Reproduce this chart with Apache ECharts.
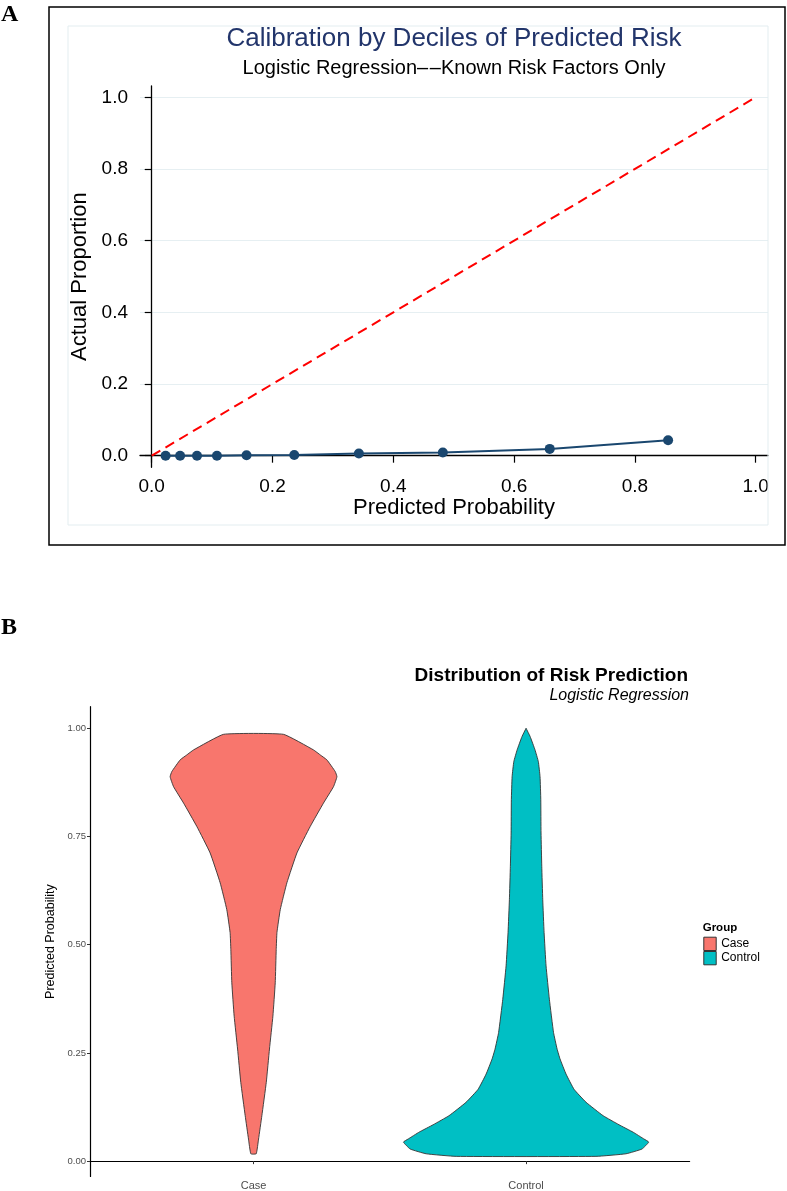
<!DOCTYPE html>
<html><head><meta charset="utf-8">
<script src="https://cdn.jsdelivr.net/npm/echarts@6/dist/echarts.min.js"></script>
<style>html,body{margin:0;padding:0;background:#fff}#c{width:787px;height:1191px}</style>
</head><body><div id="c"></div>
<script>
// ---------- Panel A: calibration by deciles ----------
const calibPredicted = [0.023, 0.047, 0.075, 0.108, 0.157, 0.236, 0.343, 0.482, 0.659, 0.855];
const calibActual    = [0.000, 0.000, 0.000, 0.000, 0.001, 0.002, 0.006, 0.009, 0.019, 0.043];
const refLine = [[0, 0], [1, 1]];
const calibTicks = [0, 0.2, 0.4, 0.6, 0.8, 1.0];

// ---------- Panel B: violin of predicted risk ----------
const groups = ['Case', 'Control'];
const caseProb  = [0.986, 0.950, 0.938, 0.927, 0.900, 0.888, 0.865, 0.827, 0.773, 0.712, 0.643, 0.581, 0.528, 0.489, 0.412, 0.335, 0.259, 0.182, 0.105, 0.051, 0.017];
const caseDens  = [0.244, 0.489, 0.546, 0.598, 0.666, 0.680, 0.652, 0.570, 0.462, 0.354, 0.272, 0.218, 0.191, 0.185, 0.177, 0.158, 0.130, 0.104, 0.068, 0.041, 0.022];
const controlProb = [1.000, 0.981, 0.950, 0.923, 0.888, 0.835, 0.758, 0.681, 0.604, 0.528, 0.451, 0.374, 0.297, 0.259, 0.236, 0.201, 0.166, 0.136, 0.105, 0.084, 0.067, 0.051, 0.044, 0.028, 0.017, 0.011];
const controlDens = [0.000, 0.033, 0.073, 0.100, 0.114, 0.120, 0.122, 0.128, 0.136, 0.147, 0.163, 0.190, 0.224, 0.253, 0.277, 0.326, 0.391, 0.489, 0.628, 0.758, 0.872, 0.962, 1.000, 0.945, 0.815, 0.570];
const violinTicks = [0, 0.25, 0.5, 0.75, 1.0];
const groupColors = ['#F8766D', '#00BFC4'];

const FONT = '"Liberation Sans", Arial, Helvetica, sans-serif';
const chart = echarts.init(document.getElementById('c'), null, {renderer: 'canvas'});

function violin(name, pos, probs, dens, color) {
  return {
    type: 'custom', name: name, xAxisIndex: 1, yAxisIndex: 1,
    itemStyle: {color: color},
    data: [[pos, probs[0]]],
    renderItem: function (params, api) {
      const half = 0.45 * api.size([1, 0])[0];
      const right = [], left = [];
      for (let i = 0; i < probs.length; i++) {
        const c = api.coord([pos, probs[i]]);
        right.push([c[0] + dens[i] * half, c[1]]);
        left.unshift([c[0] - dens[i] * half, c[1]]);
      }
      return {
        type: 'polygon',
        shape: {points: right.concat(left), smooth: 0.12},
        style: {fill: color, stroke: '#333333', lineWidth: 0.9}
      };
    }
  };
}

const option = {
  animation: false,
  backgroundColor: '#ffffff',
  title: [
    {text: 'Calibration by Deciles of Predicted Risk', left: 454, top: 26, textAlign: 'center', padding: 0,
     textStyle: {fontFamily: FONT, fontSize: 26, fontWeight: 'normal', color: '#22356b'}},
    {text: 'Logistic Regression\u2013\u200a\u2013Known Risk Factors Only', left: 454, top: 58, textAlign: 'center', padding: 0,
     textStyle: {fontFamily: FONT, fontSize: 20, fontWeight: 'normal', color: '#000'}},
    {text: 'Distribution of Risk Prediction', left: 688, top: 665.8, textAlign: 'right', padding: 0,
     textStyle: {fontFamily: FONT, fontSize: 19, fontWeight: 'bold', color: '#000'}},
    {text: 'Logistic Regression', left: 689, top: 688, textAlign: 'right', padding: 0,
     textStyle: {fontFamily: FONT, fontSize: 16, fontStyle: 'italic', fontWeight: 'normal', color: '#000'}},
    {text: 'Group', left: 702.7, top: 921.5, padding: 0,
     textStyle: {fontFamily: FONT, fontSize: 11.5, fontWeight: 'bold', color: '#000'}}
  ],
  legend: {
    data: [
      {name: 'Case', itemStyle: {color: groupColors[0], borderColor: '#333', borderWidth: 1}},
      {name: 'Control', itemStyle: {color: groupColors[1], borderColor: '#333', borderWidth: 1}}
    ],
    orient: 'vertical', left: 703.3, top: 936.7, padding: 0,
    itemWidth: 12.4, itemHeight: 13.3, itemGap: 0, icon: 'rect', selectedMode: false,
    textStyle: {fontFamily: FONT, fontSize: 12, color: '#000'}
  },
  graphic: [
    {type: 'rect', shape: {x: 49, y: 7, width: 736, height: 538}, style: {fill: 'none', stroke: '#000', lineWidth: 1.5}, z: 100},
    {type: 'rect', shape: {x: 68, y: 26, width: 700, height: 499}, style: {fill: 'none', stroke: '#e3edf0', lineWidth: 1}, z: 1},
    {type: 'text', x: 1, y: 3, style: {text: 'A', font: 'bold 24px "Liberation Serif", "Times New Roman", serif', fill: '#000'}},
    {type: 'text', x: 1, y: 616, style: {text: 'B', font: 'bold 24px "Liberation Serif", "Times New Roman", serif', fill: '#000'}}
  ],
  grid: [
    {left: 140, top: 86, width: 628, height: 381.3, containLabel: false},
    {left: 90, top: 706.7, width: 599.6, height: 471, containLabel: false}
  ],
  xAxis: [
    {type: 'value', gridIndex: 0, min: -0.0194, max: 1.0204,
     axisLine: {show: true, lineStyle: {color: '#000', width: 1.3}},
     axisTick: {show: true, length: 7, customValues: calibTicks, lineStyle: {color: '#000', width: 1.2}},
     axisLabel: {customValues: calibTicks, formatter: v => v.toFixed(1), margin: 9.5,
                 fontFamily: FONT, fontSize: 19, color: '#000'},
     splitLine: {show: false},
     name: 'Predicted Probability', nameLocation: 'middle', nameGap: 30,
     nameTextStyle: {fontFamily: FONT, fontSize: 22, color: '#000'}},
    {type: 'value', gridIndex: 1, min: 0.4, max: 2.6,
     axisLine: {show: true, lineStyle: {color: '#000', width: 1.2}},
     axisTick: {show: true, length: 3, customValues: [1, 2], lineStyle: {color: '#333', width: 1}},
     axisLabel: {customValues: [1, 2], formatter: v => groups[Math.round(v) - 1], margin: 3.5,
                 fontFamily: FONT, fontSize: 11, color: '#4d4d4d'},
     splitLine: {show: false}}
  ],
  yAxis: [
    {type: 'value', gridIndex: 0, min: -0.0324, max: 1.0315,
     axisLine: {show: true, lineStyle: {color: '#000', width: 1.3}},
     axisTick: {show: true, length: 7, customValues: calibTicks, lineStyle: {color: '#000', width: 1.2}},
     axisLabel: {customValues: calibTicks, formatter: v => v.toFixed(1), margin: 12,
                 fontFamily: FONT, fontSize: 19, color: '#000'},
     splitLine: {show: true, lineStyle: {color: '#e6eff2', width: 1.2}},
     name: 'Actual Proportion', nameLocation: 'middle', nameGap: 48,
     nameTextStyle: {fontFamily: FONT, fontSize: 22, color: '#000'}},
    {type: 'value', gridIndex: 1, min: -0.0355, max: 1.0498,
     axisLine: {show: true, lineStyle: {color: '#000', width: 1.2}},
     axisTick: {show: true, length: 3, customValues: violinTicks, lineStyle: {color: '#333', width: 1}},
     axisLabel: {customValues: violinTicks, formatter: v => v.toFixed(2), margin: 4,
                 fontFamily: FONT, fontSize: 9.5, color: '#4d4d4d'},
     splitLine: {show: false},
     name: 'Predicted Probability', nameLocation: 'middle', nameGap: 25.7,
     nameTextStyle: {fontFamily: FONT, fontSize: 12.5, color: '#000'}}
  ],
  series: [
    {type: 'line', name: 'Reference', xAxisIndex: 0, yAxisIndex: 0, data: refLine,
     symbol: 'none', lineStyle: {color: '#ff0000', width: 2, type: [10, 6]}, silent: true},
    {type: 'line', name: 'Calibration', xAxisIndex: 0, yAxisIndex: 0,
     data: calibPredicted.map((x, i) => [x, calibActual[i]]),
     symbol: 'circle', symbolSize: 10,
     itemStyle: {color: '#1a476f'}, lineStyle: {color: '#1a476f', width: 2}, z: 3},
    violin('Case', 1, caseProb, caseDens, groupColors[0]),
    violin('Control', 2, controlProb, controlDens, groupColors[1])
  ]
};
chart.setOption(option);
</script>
</body></html>
